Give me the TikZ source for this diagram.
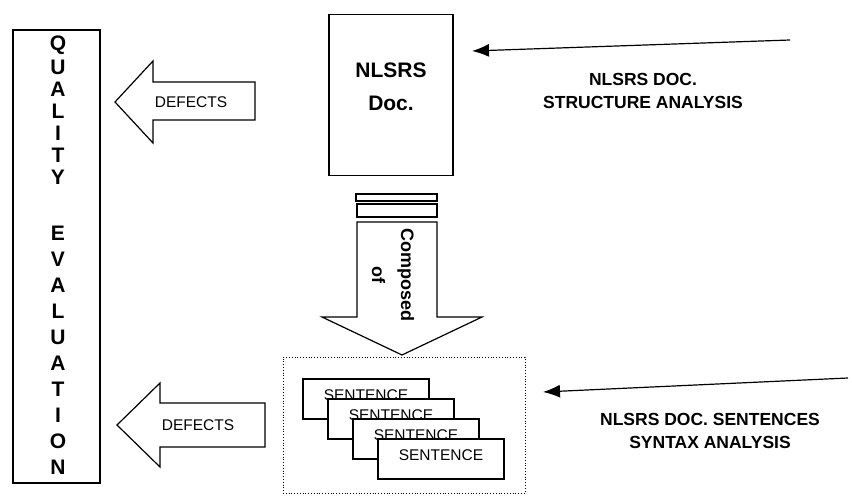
\documentclass[tikz,border=0pt]{standalone}
\usepackage{fontspec}
\setmainfont{Liberation Sans}
\usetikzlibrary{arrows.meta}

\begin{document}
\begin{tikzpicture}[x=1pt,y=-1pt,>={Latex[length=17pt,width=13pt]},line width=1.2pt]

\tikzstyle{box}=[draw,inner sep=0pt]
\tikzstyle{blockarrow}=[draw,line join=miter,fill=white]
\tikzstyle{card}=[draw,fill=white,minimum width=126pt,minimum height=40pt,inner sep=0pt]
\tikzstyle{letter}=[font=\bfseries\fontsize{21}{21}\selectfont]
\tikzstyle{sidelabel}=[font=\bfseries\fontsize{17.5}{23}\selectfont,align=center]
\tikzstyle{smalltext}=[font=\fontsize{15.5}{18}\selectfont]

    \useasboundingbox (0,0) rectangle (852,497);

    % quality evaluation column
    \node[box,minimum width=87pt,minimum height=453pt] (quality) at (56.5,256.5) {};
    \foreach \ch [count=\i] in {Q,U,A,L,I,T,Y}
        \node[letter] (q\i) at (58,{23+22*\i}) {\ch};
    \foreach \ch [count=\i] in {E,V,A,L,U,A,T,I,O,N}
        \node[letter] (e\i) at (58,{207+26*\i}) {\ch};

    % document
    \node[box,minimum width=124pt,minimum height=161pt] (doc) at (391,95) {};
    \node[align=center,font=\bfseries\fontsize{21}{33}\selectfont] (doclabel) at (391,87) {NLSRS\\Doc.};

    \node[box,minimum width=81pt,minimum height=7pt] (bar1) at (396.5,197.5) {};
    \node[box,minimum width=80pt,minimum height=13pt] (bar2) at (397,210.5) {};

    \draw[blockarrow] (357,222) -- (437,222) -- (437,317) -- (482,317) -- (402,355) -- (322,317) -- (357,317) -- cycle;
    \node[rotate=-90,align=center,font=\bfseries\fontsize{18}{29}\selectfont] (composed) at (393,275) {Composed\\of};

    % sentences
    \node[draw,dotted,line width=0.8pt,minimum width=242pt,minimum height=136pt] (group) at (404,425) {};
    \foreach \i in {1,...,4} {
        \node[card] (card\i) at ({341+25*\i},{379+20*\i}) {};
        \node[smalltext] (word\i) at ([yshift=-17pt]card\i.north) {SENTENCE};
    }

    % defects
    \draw[blockarrow] (255,82) -- (255,120) -- (153,120) -- (153,143) -- (115,102) -- (153,61) -- (153,82) -- cycle;
    \node[smalltext] (defect1) at (191,102) {DEFECTS};
    \draw[blockarrow] (265,403) -- (265,447) -- (160,447) -- (160,467) -- (117,425) -- (160,383) -- (160,403) -- cycle;
    \node[smalltext] (defect2) at (198,425) {DEFECTS};

    % analyses
    \coordinate (src1) at (790,40);
    \coordinate (dst1) at (472,51);
    \draw[->] (src1) -- (dst1);
    \node[sidelabel] (structure) at (643,91) {NLSRS DOC.\\STRUCTURE ANALYSIS};

    \coordinate (src2) at (848,378);
    \coordinate (dst2) at (543,392);
    \draw[->] (src2) -- (dst2);
    \node[sidelabel] (syntax) at (710,431) {NLSRS DOC. SENTENCES\\SYNTAX ANALYSIS};

\end{tikzpicture}
\end{document}
